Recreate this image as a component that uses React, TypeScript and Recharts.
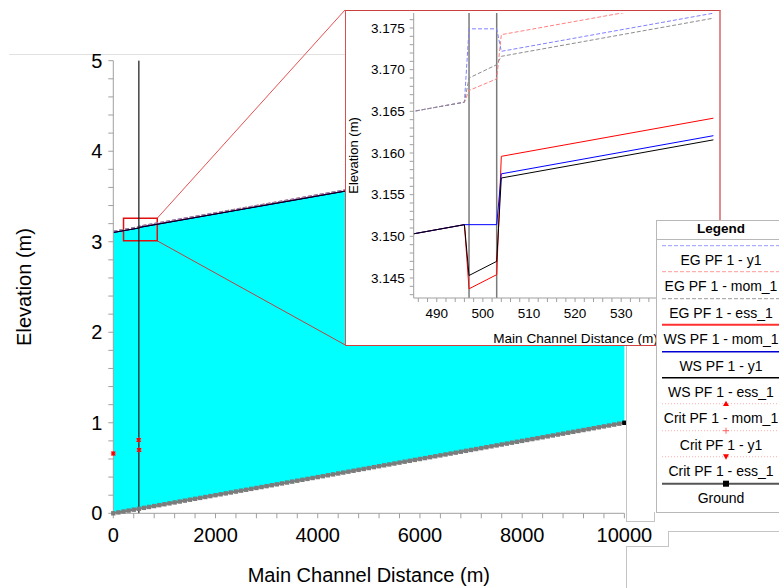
import React from 'react'
import { ComposedChart, Line, Area, XAxis, YAxis, ReferenceLine, ReferenceArea } from 'recharts'

const FONT = '"Liberation Sans", Arial, sans-serif'

// river stations (m), incl. the bridge bounding sections
const profileStations = [0, 496, 497, 503, 504, 10000]
const profileGround = [0, 0.05, 0.05, 0.05, 0.05, 1.0]
const wsMom = [3.102, 3.1514, 3.1437, 3.1454, 3.1596, 4.1046]
const wsY1 = [3.102, 3.1514, 3.1514, 3.1514, 3.1575, 4.1025]
const wsEss = [3.102, 3.1514, 3.1453, 3.147, 3.157, 4.102]
const egY1 = [3.1168, 3.1661, 3.1749, 3.1749, 3.1722, 4.1172]
const egMom = [3.1168, 3.1661, 3.1675, 3.1689, 3.1742, 4.1192]
const egEss = [3.1168, 3.1661, 3.169, 3.1706, 3.1716, 4.1166]

const critStations = [0, 497, 504]
const critMom = [0.66, 0.81, 0.7]
const critY1 = [0.66, 0.81, 0.7]
const critEss = [0.66, 0.81, 0.7]

const bridgeStations = [497, 503]

const groundStations = [
  0, 100, 200, 300, 400, 500, 600, 700, 800, 900,
  1000, 1100, 1200, 1300, 1400, 1500, 1600, 1700, 1800, 1900,
  2000, 2100, 2200, 2300, 2400, 2500, 2600, 2700, 2800, 2900,
  3000, 3100, 3200, 3300, 3400, 3500, 3600, 3700, 3800, 3900,
  4000, 4100, 4200, 4300, 4400, 4500, 4600, 4700, 4800, 4900,
  5000, 5100, 5200, 5300, 5400, 5500, 5600, 5700, 5800, 5900,
  6000, 6100, 6200, 6300, 6400, 6500, 6600, 6700, 6800, 6900,
  7000, 7100, 7200, 7300, 7400, 7500, 7600, 7700, 7800, 7900,
  8000, 8100, 8200, 8300, 8400, 8500, 8600, 8700, 8800, 8900,
  9000, 9100, 9200, 9300, 9400, 9500, 9600, 9700, 9800, 9900,
  10000,
]
const groundElev = [
  0, 0.01, 0.02, 0.03, 0.04, 0.05, 0.06, 0.07, 0.08, 0.09,
  0.1, 0.11, 0.12, 0.13, 0.14, 0.15, 0.16, 0.17, 0.18, 0.19,
  0.2, 0.21, 0.22, 0.23, 0.24, 0.25, 0.26, 0.27, 0.28, 0.29,
  0.3, 0.31, 0.32, 0.33, 0.34, 0.35, 0.36, 0.37, 0.38, 0.39,
  0.4, 0.41, 0.42, 0.43, 0.44, 0.45, 0.46, 0.47, 0.48, 0.49,
  0.5, 0.51, 0.52, 0.53, 0.54, 0.55, 0.56, 0.57, 0.58, 0.59,
  0.6, 0.61, 0.62, 0.63, 0.64, 0.65, 0.66, 0.67, 0.68, 0.69,
  0.7, 0.71, 0.72, 0.73, 0.74, 0.75, 0.76, 0.77, 0.78, 0.79,
  0.8, 0.81, 0.82, 0.83, 0.84, 0.85, 0.86, 0.87, 0.88, 0.89,
  0.9, 0.91, 0.92, 0.93, 0.94, 0.95, 0.96, 0.97, 0.98, 0.99,
  1.0,
]

// zoom box on the main plot and where the inset sits, in main-plot units
const zoomBox = { x1: 200, x2: 860, y1: 3.01, y2: 3.26 }
const insetCorner = { x: 4533, yTop: 5.56, yBottom: 1.861 }

const mainXTicks = Array.from({ length: 26 }, (_, i) => i * 400)
const mainYTicks = Array.from({ length: 26 }, (_, i) => i / 5)
const insetXTicks = Array.from({ length: 33 }, (_, i) => 486 + i * 2)
const insetYTicks = Array.from({ length: 34 }, (_, i) => (3143 + i) / 1000)
const insetLastLabel = 530 // labels further right sit under the legend

const pts = (xs: number[], ys: number[]) => xs.map((x, i) => ({ x, y: ys[i] }))

const groundData = pts(groundStations, groundElev)
const areaData = profileStations.map((x, i) => ({ x, band: [profileGround[i], wsEss[i]] }))

const waterLines = [
  { key: 'egMom', data: pts(profileStations, egMom), stroke: '#ff8080', dash: '4 2', w: 1 },
  { key: 'egY1', data: pts(profileStations, egY1), stroke: '#8080ff', dash: '4 2', w: 1 },
  { key: 'egEss', data: pts(profileStations, egEss), stroke: '#8c8c8c', dash: '4 2', w: 1 },
  { key: 'wsMom', data: pts(profileStations, wsMom), stroke: '#ff0000', dash: undefined, w: 1 },
  { key: 'wsY1', data: pts(profileStations, wsY1), stroke: '#0000ff', dash: undefined, w: 1 },
  { key: 'wsEss', data: pts(profileStations, wsEss), stroke: '#000000', dash: undefined, w: 1 },
]

const legendItems = [
  { name: 'EG PF 1 - y1', stroke: '#9a9aff', dash: '4 2', w: 1, marker: '' },
  { name: 'EG PF 1 - mom_1', stroke: '#ff9a9a', dash: '4 2', w: 1, marker: '' },
  { name: 'EG PF 1 - ess_1', stroke: '#9a9a9a', dash: '4 2', w: 1, marker: '' },
  { name: 'WS PF 1 - mom_1', stroke: '#ff3030', dash: undefined, w: 2, marker: '' },
  { name: 'WS PF 1 - y1', stroke: '#0000d0', dash: undefined, w: 1.5, marker: '' },
  { name: 'WS PF 1 - ess_1', stroke: '#000', dash: undefined, w: 1.5, marker: '' },
  { name: 'Crit PF 1 - mom_1', stroke: '#ffb0b0', dash: '1 2', w: 1, marker: 'up' },
  { name: 'Crit PF 1 - y1', stroke: '#ffb0b0', dash: '1 2', w: 1, marker: 'plus' },
  { name: 'Crit PF 1 - ess_1', stroke: '#ffb0b0', dash: '1 2', w: 1, marker: 'down' },
  { name: 'Ground', stroke: '#555', dash: undefined, w: 2, marker: 'square' },
]

function markerShape(kind: string, cx: number, cy: number, s = 3, key?: any) {
  if (kind === 'up') return <path key={key} d={`M${cx},${cy - s}L${cx + s},${cy + s * 0.8}L${cx - s},${cy + s * 0.8}Z`} fill="#ff0000" />
  if (kind === 'down') return <path key={key} d={`M${cx},${cy + s}L${cx + s},${cy - s * 0.8}L${cx - s},${cy - s * 0.8}Z`} fill="#ff0000" />
  if (kind === 'plus') return <path key={key} d={`M${cx - s},${cy}H${cx + s}M${cx},${cy - s}V${cy + s}`} stroke="#ff6060" strokeWidth={1} />
  return <rect key={key} x={cx - s} y={cy - s} width={s * 2} height={s * 2} fill="#000" />
}

const critDot = (kind: string) => (p: any) => {
  if (p.cx == null || p.cy == null) return <g key={p.key ?? p.index} />
  return markerShape(kind, p.cx, p.cy, 2.5, p.key ?? `${kind}-${p.index}`)
}

const groundDot = (p: any) => {
  if (p.cx == null || p.cy == null) return <g key={p.key ?? p.index} />
  const last = p.index === groundData.length - 1
  return <rect key={p.key ?? `g-${p.index}`} x={p.cx - 2.2} y={p.cy - 2.2} width={4.4} height={4.4} fill={last ? '#000' : '#7c7c7c'} />
}

const tickStyle = (size: number) => ({ fill: '#000', fontSize: size, fontFamily: FONT })

function MainChart() {
  return (
    <ComposedChart width={779} height={588} margin={{ top: 60.7, right: 154.6, bottom: 34.7, left: 53.3 }}>
      <XAxis
        type="number"
        dataKey="x"
        domain={[0, 10000]}
        ticks={mainXTicks}
        interval={0}
        tickFormatter={(v: number) => (v % 2000 === 0 ? String(v) : '')}
        height={40}
        tickSize={5}
        tickMargin={9}
        stroke="#a0a0a0"
        tick={tickStyle(20)}
        label={{
          content: (p: any) => {
            const vb = p.viewBox || { x: 113.3, y: 513.3, width: 511.1 }
            return (
              <text x={vb.x + vb.width / 2} y={vb.y + 62} textAnchor="middle" dominantBaseline="central" fontSize={20} fontFamily={FONT} fill="#000">
                Main Channel Distance (m)
              </text>
            )
          },
        }}
      />
      <YAxis
        type="number"
        dataKey="y"
        domain={[0, 5]}
        ticks={mainYTicks}
        interval={0}
        tickFormatter={(v: number) => (Math.abs(v - Math.round(v)) < 1e-6 ? String(Math.round(v)) : '')}
        width={60}
        tickSize={5}
        tickMargin={6}
        stroke="#a0a0a0"
        tick={tickStyle(20)}
        label={{
          content: (p: any) => {
            const vb = p.viewBox || { x: 53.3, y: 60.7, height: 452.6 }
            const cx = vb.x - 29.3
            const cy = vb.y + vb.height / 2
            return (
              <text x={cx} y={cy} transform={`rotate(-90, ${cx}, ${cy})`} textAnchor="middle" dominantBaseline="central" fontSize={20} fontFamily={FONT} fill="#000">
                Elevation (m)
              </text>
            )
          },
        }}
      />
      <Area data={areaData} dataKey="band" type="linear" fill="#00ffff" fillOpacity={1} stroke="none" isAnimationActive={false} />
      <Line data={groundData} dataKey="y" type="linear" stroke="#7c7c7c" strokeWidth={2} dot={groundDot} isAnimationActive={false} />
      {waterLines.map(l => (
        <Line key={l.key} data={l.data} dataKey="y" type="linear" stroke={l.stroke} strokeDasharray={l.dash} strokeWidth={l.w} dot={false} isAnimationActive={false} />
      ))}
      <Line data={pts(critStations, critMom)} dataKey="y" stroke="none" dot={critDot('up')} isAnimationActive={false} />
      <Line data={pts(critStations, critY1)} dataKey="y" stroke="none" dot={critDot('plus')} isAnimationActive={false} />
      <Line data={pts(critStations, critEss)} dataKey="y" stroke="none" dot={critDot('down')} isAnimationActive={false} />
      {bridgeStations.map(b => (
        <ReferenceLine key={b} x={b} stroke="#222" strokeWidth={0.8} />
      ))}
      <ReferenceArea x1={zoomBox.x1} x2={zoomBox.x2} y1={zoomBox.y1} y2={zoomBox.y2} fill="none" fillOpacity={0} stroke="#e01010" strokeWidth={1.5} ifOverflow="visible" />
      <ReferenceLine segment={[{ x: zoomBox.x2, y: zoomBox.y2 }, { x: insetCorner.x, y: insetCorner.yTop }]} stroke="#e85050" strokeWidth={1} ifOverflow="visible" />
      <ReferenceLine segment={[{ x: zoomBox.x2, y: zoomBox.y1 }, { x: insetCorner.x, y: insetCorner.yBottom }]} stroke="#c04040" strokeWidth={1} ifOverflow="visible" />
    </ComposedChart>
  )
}

function InsetChart() {
  return (
    <div style={{ position: 'absolute', left: 345, top: 10, width: 376, height: 336, boxSizing: 'border-box', background: '#fff', borderTop: '1px solid #c84040', borderLeft: '1px solid #d85050', borderBottom: '1px solid #d04040', borderRight: '2px solid #e08c8c' }}>
      <ComposedChart width={373} height={334} margin={{ top: 2, right: 5.6, bottom: 17, left: 17.7 }}>
        <XAxis
          type="number"
          dataKey="x"
          domain={[485, 550]}
          allowDataOverflow
          ticks={insetXTicks}
          interval={0}
          tickFormatter={(v: number) => (v % 10 === 0 && v <= insetLastLabel ? String(v) : '')}
          height={30}
          tickSize={4}
          tickMargin={6}
          stroke="#a0a0a0"
          tick={tickStyle(13.5)}
          label={{
            content: (p: any) => {
              const vb = p.viewBox || { x: 67.7, y: 287, width: 299.7 }
              return (
                <text x={vb.x + vb.width / 2 + 12} y={vb.y + 40} textAnchor="middle" dominantBaseline="central" fontSize={13.6} fontFamily={FONT} fill="#000">
                  Main Channel Distance (m)
                </text>
              )
            },
          }}
        />
        <YAxis
          type="number"
          dataKey="y"
          domain={[3.1426, 3.1768]}
          allowDataOverflow
          ticks={insetYTicks}
          interval={0}
          tickFormatter={(v: number) => (Math.round(v * 1000) % 5 === 0 ? v.toFixed(3) : '')}
          width={50}
          tickSize={4}
          tickMargin={5}
          stroke="#a0a0a0"
          tick={tickStyle(13.5)}
          label={{
            content: (p: any) => {
              const vb = p.viewBox || { x: 17.7, y: 2, height: 285 }
              const cx = vb.x - 10.7
              const cy = vb.y + vb.height / 2
              return (
                <text x={cx} y={cy} transform={`rotate(-90, ${cx}, ${cy})`} textAnchor="middle" dominantBaseline="central" fontSize={13} fontFamily={FONT} fill="#000">
                  Elevation (m)
                </text>
              )
            },
          }}
        />
        {bridgeStations.map(b => (
          <ReferenceLine key={b} x={b} stroke="#7a7a7a" strokeWidth={1.5} />
        ))}
        {waterLines.map(l => (
          <Line key={l.key} data={l.data} dataKey="y" type="linear" stroke={l.stroke} strokeDasharray={l.dash} strokeWidth={l.w} dot={false} isAnimationActive={false} />
        ))}
      </ComposedChart>
    </div>
  )
}

function ProfileLegend() {
  return (
    <div style={{ position: 'absolute', left: 656, top: 220, width: 130, height: 293, boxSizing: 'border-box', border: '1px solid #b8b8b8', background: '#fff', fontFamily: FONT, color: '#000' }}>
      <div style={{ height: 18, lineHeight: '16px', textAlign: 'center', fontWeight: 700, fontSize: 13.5, borderBottom: '1px solid #b8b8b8' }}>Legend</div>
      {legendItems.map(item => (
        <div key={item.name} style={{ position: 'relative', height: 26.4 }}>
          <svg width={118} height={12} style={{ position: 'absolute', left: 5, top: 0 }}>
            <line x1={0} x2={118} y1={5.7} y2={5.7} stroke={item.stroke} strokeWidth={item.w} strokeDasharray={item.dash} />
            {item.marker ? markerShape(item.marker, 64, 5.7) : null}
          </svg>
          <div style={{ position: 'absolute', left: 0, right: 0, top: 12, height: 16, lineHeight: '16px', textAlign: 'center', fontSize: 14, whiteSpace: 'nowrap' }}>{item.name}</div>
        </div>
      ))}
    </div>
  )
}

const frameLine = (left: number, top: number, width: number, height: number, color = '#c4c4c4') => (
  <div key={`${left}-${top}-${width}-${height}`} style={{ position: 'absolute', left, top, width, height, background: color }} />
)

export default function App() {
  return (
    <div style={{ position: 'fixed', left: 0, top: 0, width: 779, height: 588, overflow: 'hidden', background: '#fff' }}>
      {frameLine(9, 54, 336, 1, '#e2e2e2')}
      <div style={{ position: 'absolute', left: 0, top: 0 }}>
        <MainChart />
      </div>
      {frameLine(626, 346, 1, 176)}
      {frameLine(626, 521, 29, 1)}
      {frameLine(654, 512, 1, 10)}
      {frameLine(668, 531, 111, 1)}
      {frameLine(668, 531, 1, 16)}
      {frameLine(626, 546, 43, 1)}
      {frameLine(626, 546, 1, 42)}
      <InsetChart />
      <ProfileLegend />
    </div>
  )
}
